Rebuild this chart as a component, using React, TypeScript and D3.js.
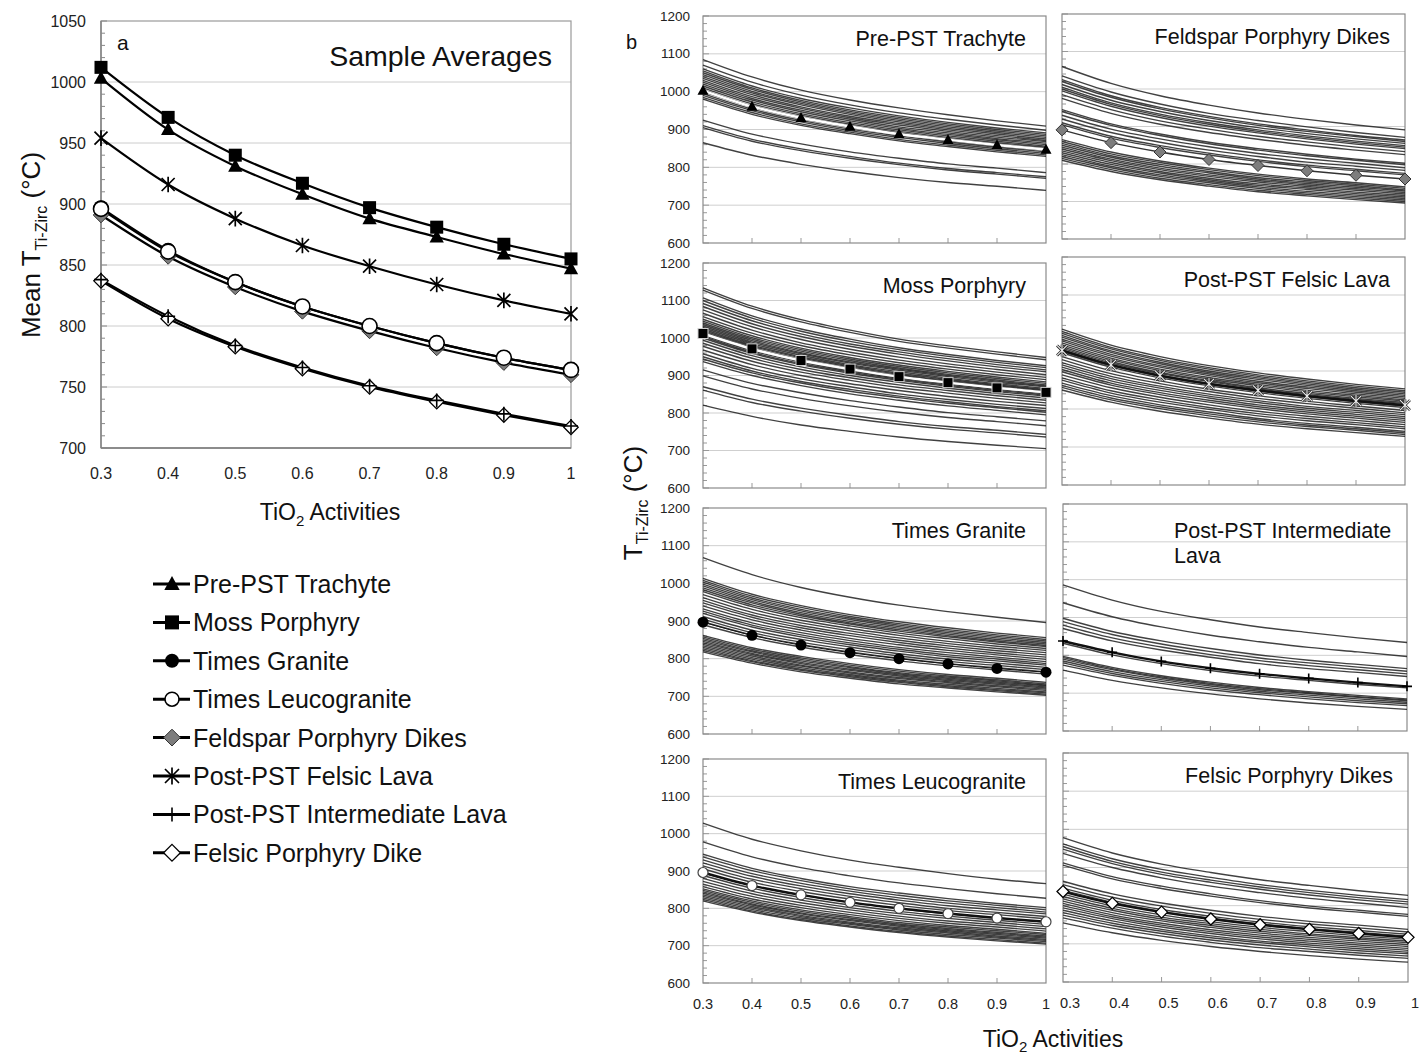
import React from "react";
import * as d3 from "d3";

const FONT = "'Liberation Sans', Arial, Helvetica, sans-serif";

// ---------- shared axes data ----------
const activities = [0.3, 0.4, 0.5, 0.6, 0.7, 0.8, 0.9, 1.0];
const xTickLabels = ["0.3", "0.4", "0.5", "0.6", "0.7", "0.8", "0.9", "1"];
const yTicksA = [700, 750, 800, 850, 900, 950, 1000, 1050];
const yTicksB = [600, 700, 800, 900, 1000, 1100, 1200];

// ---------- sample means (panel a and marker series in panel b) ----------
const meanTrachyte = [1003, 961, 931, 908, 888, 873, 859, 847];
const meanMoss = [1012, 971, 940, 917, 897, 881, 867, 855];
const meanGranite = [897, 862, 836, 816, 800, 786, 774, 764];
const meanLeuco = [896, 861, 836, 816, 800, 786, 774, 764];
const meanFeldspar = [891, 857, 832, 812, 796, 782, 770, 760];
const meanFelsicLava = [954, 916, 888, 866, 849, 834, 821, 810];
const meanIntermediate = [838, 808, 784, 766, 751, 739, 728, 718];
const meanFelsicDike = [837, 806, 783, 765, 750, 738, 727, 717];

// ---------- individual zircon curves (panel b) ----------
const curvesTrachyte = [
  [1085, 1039, 1004, 978, 957, 939, 923, 909],
  [1070, 1025, 991, 965, 944, 927, 912, 898],
  [1060, 1015, 982, 957, 936, 919, 904, 891],
  [1055, 1010, 977, 952, 932, 915, 900, 887],
  [1050, 1006, 973, 948, 928, 911, 896, 883],
  [1045, 1001, 969, 944, 924, 907, 892, 879],
  [1040, 997, 965, 940, 920, 903, 888, 875],
  [1035, 992, 960, 935, 916, 899, 884, 871],
  [1030, 987, 956, 931, 912, 895, 880, 868],
  [1025, 982, 951, 927, 907, 891, 876, 864],
  [1020, 978, 947, 923, 903, 887, 873, 860],
  [1015, 973, 942, 918, 899, 883, 869, 856],
  [1010, 968, 938, 914, 895, 879, 865, 853],
  [1005, 963, 933, 910, 891, 875, 861, 849],
  [1000, 959, 929, 906, 887, 871, 857, 845],
  [995, 954, 924, 901, 883, 867, 853, 841],
  [990, 950, 920, 897, 879, 863, 849, 837],
  [985, 945, 915, 893, 874, 859, 845, 833],
  [980, 940, 911, 889, 870, 855, 841, 829],
  [925, 888, 862, 841, 824, 809, 798, 786],
  [910, 874, 849, 829, 811, 797, 786, 775],
  [905, 869, 844, 824, 807, 793, 782, 771],
  [865, 832, 808, 789, 773, 760, 750, 739],
];

const curvesFeldspar = [
  [1060, 1015, 982, 957, 936, 919, 904, 891],
  [1035, 992, 960, 935, 916, 899, 884, 871],
  [1025, 982, 951, 927, 907, 891, 876, 864],
  [1020, 978, 947, 923, 903, 887, 873, 860],
  [1012, 970, 940, 916, 897, 881, 867, 855],
  [1005, 963, 933, 910, 891, 875, 861, 849],
  [1000, 959, 929, 906, 887, 871, 857, 845],
  [995, 954, 924, 901, 883, 867, 853, 841],
  [985, 945, 915, 893, 874, 859, 845, 833],
  [975, 935, 906, 884, 866, 850, 837, 825],
  [945, 907, 880, 858, 841, 826, 813, 802],
  [940, 903, 876, 854, 837, 822, 810, 798],
  [930, 893, 867, 846, 828, 814, 802, 790],
  [920, 884, 858, 837, 820, 805, 794, 783],
  [910, 874, 849, 829, 811, 797, 786, 775],
  [905, 869, 844, 824, 807, 793, 782, 771],
  [865, 832, 808, 789, 773, 760, 750, 739],
  [860, 827, 804, 785, 769, 756, 746, 735],
  [855, 822, 799, 780, 764, 752, 742, 731],
  [850, 818, 794, 776, 760, 748, 738, 728],
  [845, 813, 789, 771, 756, 744, 734, 724],
  [840, 809, 785, 767, 752, 740, 730, 720],
  [835, 804, 780, 762, 747, 736, 725, 716],
  [830, 799, 776, 758, 743, 732, 721, 712],
  [825, 794, 771, 754, 739, 727, 717, 708],
  [820, 790, 767, 750, 735, 723, 713, 704],
  [815, 785, 762, 745, 730, 719, 709, 700],
  [810, 780, 758, 741, 726, 715, 705, 696],
];

const curvesMoss = [
  [1134, 1085, 1049, 1021, 997, 979, 963, 948],
  [1128, 1079, 1043, 1015, 991, 973, 957, 942],
  [1107, 1059, 1024, 997, 974, 956, 940, 926],
  [1100, 1053, 1018, 991, 969, 951, 935, 921],
  [1092, 1046, 1011, 984, 963, 945, 929, 915],
  [1084, 1038, 1004, 978, 957, 939, 923, 910],
  [1075, 1030, 996, 970, 949, 931, 916, 902],
  [1066, 1021, 987, 962, 941, 924, 909, 895],
  [1057, 1013, 980, 955, 934, 917, 902, 889],
  [1050, 1006, 973, 948, 928, 911, 896, 883],
  [1045, 1001, 969, 944, 924, 907, 892, 879],
  [1040, 997, 965, 940, 920, 903, 888, 875],
  [1036, 993, 961, 936, 917, 900, 885, 872],
  [1032, 989, 958, 933, 914, 897, 882, 870],
  [1028, 985, 954, 929, 910, 893, 878, 866],
  [1024, 981, 950, 926, 906, 890, 875, 863],
  [1020, 978, 947, 923, 903, 887, 873, 860],
  [1016, 974, 943, 919, 900, 884, 870, 857],
  [1012, 970, 940, 916, 897, 881, 867, 855],
  [1008, 966, 936, 912, 893, 877, 863, 851],
  [1004, 962, 932, 909, 890, 874, 860, 848],
  [1000, 959, 929, 906, 887, 871, 857, 845],
  [994, 953, 923, 900, 882, 866, 852, 840],
  [986, 946, 916, 894, 875, 860, 846, 834],
  [978, 938, 909, 887, 868, 853, 839, 827],
  [968, 929, 900, 878, 860, 844, 831, 820],
  [958, 919, 891, 870, 851, 836, 823, 812],
  [950, 912, 884, 863, 845, 830, 817, 806],
  [944, 907, 880, 858, 841, 826, 814, 802],
  [937, 900, 873, 851, 834, 819, 807, 795],
  [915, 879, 854, 833, 816, 801, 790, 779],
  [899, 864, 839, 819, 802, 788, 777, 766],
  [870, 837, 813, 794, 777, 764, 754, 743],
  [861, 828, 805, 786, 770, 757, 747, 736],
  [821, 791, 768, 751, 736, 724, 714, 705],
];

const curvesFelsicLava = [
  [1010, 968, 938, 914, 895, 879, 865, 853],
  [1004, 962, 932, 909, 890, 874, 860, 848],
  [999, 958, 928, 905, 886, 870, 856, 844],
  [994, 953, 923, 900, 882, 866, 852, 840],
  [989, 949, 919, 896, 878, 862, 848, 836],
  [984, 944, 914, 892, 873, 858, 844, 832],
  [979, 939, 910, 888, 869, 854, 840, 828],
  [974, 934, 905, 883, 865, 849, 836, 824],
  [969, 930, 901, 879, 861, 845, 832, 821],
  [964, 925, 896, 875, 856, 841, 828, 817],
  [960, 921, 893, 872, 853, 838, 825, 814],
  [956, 917, 889, 868, 850, 835, 822, 811],
  [952, 914, 886, 865, 847, 832, 819, 808],
  [948, 910, 882, 861, 843, 828, 815, 804],
  [938, 901, 874, 852, 835, 820, 808, 796],
  [930, 893, 867, 846, 828, 814, 802, 790],
  [922, 886, 860, 839, 822, 807, 796, 785],
  [916, 880, 855, 834, 817, 802, 791, 780],
  [910, 874, 849, 829, 811, 797, 786, 775],
  [904, 868, 843, 823, 806, 792, 781, 770],
  [898, 863, 838, 818, 801, 787, 776, 765],
  [890, 856, 831, 811, 794, 781, 770, 759],
  [882, 848, 824, 804, 788, 775, 764, 753],
  [876, 842, 818, 799, 782, 769, 759, 748],
  [868, 835, 811, 792, 775, 762, 752, 741],
  [862, 829, 806, 787, 771, 758, 748, 737],
  [857, 824, 801, 782, 766, 754, 744, 733],
  [850, 818, 794, 776, 760, 748, 738, 728],
];

const curvesGranite = [
  [1068, 1023, 989, 963, 942, 925, 910, 896],
  [1013, 971, 941, 917, 898, 882, 868, 856],
  [1008, 966, 936, 912, 893, 877, 863, 851],
  [1003, 961, 931, 908, 889, 873, 859, 847],
  [998, 957, 927, 904, 885, 869, 855, 843],
  [993, 952, 922, 899, 881, 865, 851, 839],
  [988, 948, 918, 895, 877, 861, 847, 835],
  [983, 943, 914, 892, 873, 858, 844, 832],
  [978, 938, 909, 887, 868, 853, 839, 827],
  [970, 931, 902, 880, 862, 846, 833, 822],
  [962, 923, 895, 874, 855, 840, 827, 816],
  [955, 916, 888, 867, 849, 834, 821, 810],
  [948, 910, 882, 861, 843, 828, 815, 804],
  [940, 903, 876, 854, 837, 822, 810, 798],
  [932, 895, 869, 848, 830, 816, 804, 792],
  [926, 889, 863, 842, 825, 810, 799, 787],
  [920, 884, 858, 837, 820, 805, 794, 783],
  [912, 876, 851, 831, 813, 799, 788, 777],
  [905, 869, 844, 824, 807, 793, 782, 771],
  [898, 863, 838, 818, 801, 787, 776, 765],
  [890, 856, 831, 811, 794, 781, 770, 759],
  [862, 829, 806, 787, 771, 758, 748, 737],
  [858, 825, 802, 783, 767, 754, 744, 733],
  [854, 821, 798, 779, 763, 751, 741, 730],
  [850, 818, 794, 776, 760, 748, 738, 728],
  [846, 814, 790, 772, 757, 745, 735, 725],
  [842, 811, 787, 769, 754, 742, 732, 722],
  [838, 807, 783, 765, 750, 739, 728, 719],
  [834, 803, 780, 762, 747, 736, 725, 716],
  [830, 799, 776, 758, 743, 732, 721, 712],
  [826, 795, 772, 755, 740, 728, 718, 709],
  [822, 792, 769, 752, 737, 725, 715, 706],
  [818, 788, 765, 748, 733, 722, 712, 703],
];

const curvesIntermediate = [
  [986, 946, 916, 894, 875, 860, 846, 834],
  [939, 902, 875, 853, 836, 821, 809, 797],
  [898, 863, 838, 818, 801, 787, 776, 765],
  [889, 855, 830, 810, 793, 780, 769, 758],
  [880, 846, 822, 802, 786, 773, 762, 751],
  [871, 838, 814, 795, 778, 765, 755, 744],
  [832, 801, 778, 760, 745, 734, 723, 714],
  [797, 768, 746, 729, 715, 704, 694, 685],
  [794, 765, 743, 726, 712, 701, 691, 682],
  [790, 762, 740, 723, 709, 699, 689, 680],
  [785, 757, 736, 719, 705, 695, 685, 676],
  [780, 752, 731, 714, 701, 690, 680, 672],
  [774, 747, 726, 709, 696, 685, 675, 667],
  [761, 734, 714, 698, 685, 674, 665, 657],
];

const curvesLeuco = [
  [1028, 985, 954, 929, 910, 893, 878, 866],
  [978, 938, 909, 887, 868, 853, 839, 827],
  [945, 907, 880, 858, 841, 826, 813, 802],
  [938, 901, 874, 852, 835, 820, 808, 796],
  [930, 893, 867, 846, 828, 814, 802, 790],
  [922, 886, 860, 839, 822, 807, 796, 785],
  [914, 878, 853, 832, 815, 800, 789, 778],
  [906, 870, 845, 825, 808, 794, 783, 772],
  [895, 861, 836, 816, 799, 785, 774, 763],
  [888, 854, 829, 809, 792, 779, 768, 757],
  [880, 846, 822, 802, 786, 773, 762, 751],
  [872, 839, 815, 796, 779, 766, 756, 745],
  [865, 832, 808, 789, 773, 760, 750, 739],
  [858, 825, 802, 783, 767, 754, 744, 733],
  [852, 820, 796, 778, 762, 750, 740, 730],
  [848, 816, 792, 774, 758, 746, 736, 726],
  [844, 812, 788, 770, 755, 743, 733, 723],
  [840, 809, 785, 767, 752, 740, 730, 720],
  [836, 805, 781, 763, 748, 737, 726, 717],
  [832, 801, 778, 760, 745, 734, 723, 714],
  [828, 797, 774, 757, 742, 730, 720, 711],
  [824, 793, 770, 753, 738, 726, 716, 707],
  [820, 790, 767, 750, 735, 723, 713, 704],
];

const curvesFelsicDikes = [
  [978, 938, 909, 887, 868, 853, 839, 827],
  [962, 923, 895, 874, 855, 840, 827, 816],
  [955, 916, 888, 867, 849, 834, 821, 810],
  [948, 910, 882, 861, 843, 828, 815, 804],
  [937, 900, 873, 851, 834, 819, 807, 795],
  [912, 876, 851, 831, 813, 799, 788, 777],
  [906, 870, 845, 825, 808, 794, 783, 772],
  [864, 831, 807, 788, 772, 759, 749, 738],
  [855, 822, 799, 780, 764, 752, 742, 731],
  [846, 814, 790, 772, 757, 745, 735, 725],
  [840, 809, 785, 767, 752, 740, 730, 720],
  [830, 799, 776, 758, 743, 732, 721, 712],
  [824, 793, 770, 753, 738, 726, 716, 707],
  [818, 788, 765, 748, 733, 722, 712, 703],
  [812, 782, 760, 743, 728, 717, 707, 698],
  [806, 776, 754, 737, 723, 712, 702, 693],
  [800, 771, 749, 732, 718, 707, 697, 688],
  [794, 766, 744, 727, 713, 702, 692, 683],
  [788, 760, 738, 721, 707, 697, 687, 678],
  [782, 754, 733, 716, 703, 692, 682, 674],
  [775, 748, 727, 710, 697, 686, 676, 668],
  [768, 741, 720, 704, 690, 680, 670, 662],
  [755, 729, 709, 693, 680, 669, 660, 652],
];

// ---------- labels ----------
const legendNames = [
  "Pre-PST Trachyte",
  "Moss Porphyry",
  "Times Granite",
  "Times Leucogranite",
  "Feldspar Porphyry Dikes",
  "Post-PST Felsic Lava",
  "Post-PST Intermediate Lava",
  "Felsic Porphyry Dike",
];
const legendKinds = ["triangle", "square", "circle", "openCircle", "grayDiamond", "asterisk", "plus", "openDiamond"];

type Kind = "triangle" | "square" | "circle" | "openCircle" | "grayDiamond" | "asterisk" | "plus" | "openDiamond";

function Marker({ kind, x, y, s, small }: { kind: Kind; x: number; y: number; s: number; small?: boolean }) {
  const h = s / 2;
  switch (kind) {
    case "triangle":
      return <path d={`M${x},${y - h * 1.15}L${x + h * 1.1},${y + h * 0.85}L${x - h * 1.1},${y + h * 0.85}Z`} fill="#000" />;
    case "square":
      return <rect x={x - h} y={y - h} width={s} height={s} fill="#000" stroke={small ? "#cfcfcf" : "none"} strokeWidth={1} />;
    case "circle":
      return <circle cx={x} cy={y} r={h} fill="#000" />;
    case "openCircle":
      return <circle cx={x} cy={y} r={h} fill="#fff" stroke={small ? "#444" : "#000"} strokeWidth={small ? 1.2 : 1.6} />;
    case "grayDiamond":
      return <path d={`M${x},${y - h * 1.2}L${x + h * 1.2},${y}L${x},${y + h * 1.2}L${x - h * 1.2},${y}Z`} fill="#7d7d7d" stroke="#333" strokeWidth={1} />;
    case "openDiamond":
      return <path d={`M${x},${y - h * 1.2}L${x + h * 1.2},${y}L${x},${y + h * 1.2}L${x - h * 1.2},${y}Z`} fill="#fff" stroke="#000" strokeWidth={1.3} />;
    case "asterisk": {
      const d = `M${x - h},${y - h}L${x + h},${y + h}M${x - h},${y + h}L${x + h},${y - h}M${x},${y - h * 1.2}L${x},${y + h * 1.2}`;
      if (small)
        return (
          <g>
            <path d={d} stroke="#222" strokeWidth={2.6} fill="none" />
            <path d={d} stroke="#eee" strokeWidth={1.1} fill="none" />
          </g>
        );
      return <path d={d} stroke="#000" strokeWidth={1.7} fill="none" />;
    }
    case "plus":
      return <path d={`M${x - h},${y}L${x + h},${y}M${x},${y - h}L${x},${y + h}`} stroke="#000" strokeWidth={1.6} fill="none" />;
  }
  return null;
}

// ---------- panel b configuration ----------
const panelTitles = [
  ["Pre-PST Trachyte"],
  ["Feldspar Porphyry Dikes"],
  ["Moss Porphyry"],
  ["Post-PST Felsic Lava"],
  ["Times Granite"],
  ["Post-PST Intermediate", "Lava"],
  ["Times Leucogranite"],
  ["Felsic Porphyry Dikes"],
];
const panelCurves = [curvesTrachyte, curvesFeldspar, curvesMoss, curvesFelsicLava, curvesGranite, curvesIntermediate, curvesLeuco, curvesFelsicDikes];
const panelMeans = [meanTrachyte, meanFeldspar, meanMoss, meanFelsicLava, meanGranite, meanIntermediate, meanLeuco, meanFelsicDike];
const panelKinds: Kind[] = ["triangle", "grayDiamond", "square", "asterisk", "circle", "plus", "openCircle", "openDiamond"];

// layout (pixel boxes of the sub-plots)
const boxes = [
  { x0: 703, x1: 1046, y0: 16, y1: 243 },
  { x0: 1062, x1: 1405, y0: 14, y1: 239 },
  { x0: 703, x1: 1046, y0: 263, y1: 488 },
  { x0: 1062, x1: 1405, y0: 257, y1: 485 },
  { x0: 703, x1: 1046, y0: 508, y1: 734 },
  { x0: 1063, x1: 1407, y0: 504, y1: 731 },
  { x0: 703, x1: 1046, y0: 759, y1: 983 },
  { x0: 1063, x1: 1408, y0: 753, y1: 982 },
];
const meanLineStyle = [
  { stroke: "#fff", w: 2.4 },
  { stroke: "#333", w: 1.4 },
  { stroke: "#fff", w: 2.4 },
  { stroke: "#111", w: 2.4 },
  { stroke: "#111", w: 1 },
  { stroke: "#111", w: 2.4 },
  { stroke: "#111", w: 2.4 },
  { stroke: "#111", w: 2.4 },
];

function SubPanel({ idx }: { idx: number }) {
  const b = boxes[idx];
  const left = idx % 2 === 0;
  const bottom = idx >= 6;
  const x = d3.scaleLinear().domain([0.3, 1]).range([b.x0, b.x1]);
  const y = d3.scaleLinear().domain([600, 1200]).range([b.y1, b.y0]);
  const line = d3
    .line<number>()
    .x((_, i) => x(activities[i]))
    .y((d) => y(d))
    .curve(d3.curveMonotoneX);
  const minor = d3.range(600, 1201, 20);
  const title = panelTitles[idx];
  const tx = left ? b.x1 - 20 : b.x1 - 15;
  return (
    <g>
      {yTicksB.slice(1, -1).map((t) => (
        <line key={t} x1={b.x0} x2={b.x1} y1={y(t)} y2={y(t)} stroke="#cfcfcf" strokeWidth={1} />
      ))}
      {minor.map((t) => (
        <line key={"m" + t} x1={b.x0} x2={b.x0 + (t % 100 === 0 ? 6 : 4)} y1={y(t)} y2={y(t)} stroke="#999" strokeWidth={1} />
      ))}
      {activities.slice(1, -1).map((a) => (
        <line key={"xt" + a} x1={x(a)} x2={x(a)} y1={b.y1} y2={b.y1 - 5} stroke="#999" strokeWidth={1} />
      ))}
      <rect x={b.x0} y={b.y0} width={b.x1 - b.x0} height={b.y1 - b.y0} fill="none" stroke="#8a8a8a" strokeWidth={1.2} />
      {panelCurves[idx].map((c, i) => (
        <path key={i} d={line(c) || ""} fill="none" stroke="#202020" strokeOpacity={0.85} strokeWidth={1.35} />
      ))}
      <path d={line(panelMeans[idx]) || ""} fill="none" stroke={meanLineStyle[idx].stroke} strokeWidth={meanLineStyle[idx].w} />
      {panelMeans[idx].map((v, i) => (
        <Marker key={i} kind={panelKinds[idx]} x={x(activities[i])} y={y(v)} s={panelKinds[idx] === "circle" ? 11 : 10} small />
      ))}
      {title.length === 1 ? (
        <text x={tx} y={b.y0 + 30} textAnchor="end" fontSize={21.5} fontFamily={FONT} fill="#111">
          {title[0]}
        </text>
      ) : (
        <g>
          <text x={1174} y={b.y0 + 34} textAnchor="start" fontSize={21.5} fontFamily={FONT} fill="#111">
            {title[0]}
          </text>
          <text x={1174} y={b.y0 + 59} textAnchor="start" fontSize={21.5} fontFamily={FONT} fill="#111">
            {title[1]}
          </text>
        </g>
      )}
      {left &&
        yTicksB.map((t) => (
          <text key={"yl" + t} x={b.x0 - 13} y={y(t) + 4.5} textAnchor="end" fontSize={13.5} fontFamily={FONT} fill="#222">
            {t}
          </text>
        ))}
      {bottom &&
        activities.map((a, i) => (
          <text key={"xl" + a} x={x(a) + (left ? 0 : 7)} y={b.y1 + 26} textAnchor="middle" fontSize={14.5} fontFamily={FONT} fill="#222">
            {xTickLabels[i]}
          </text>
        ))}
    </g>
  );
}

// ---------- panel a ----------
const seriesAOrder = [
  { values: meanFelsicDike, kind: "openDiamond" as Kind },
  { values: meanIntermediate, kind: "plus" as Kind },
  { values: meanFeldspar, kind: "grayDiamond" as Kind },
  { values: meanGranite, kind: "circle" as Kind },
  { values: meanLeuco, kind: "openCircle" as Kind },
  { values: meanFelsicLava, kind: "asterisk" as Kind },
  { values: meanTrachyte, kind: "triangle" as Kind },
  { values: meanMoss, kind: "square" as Kind },
];

function PanelA() {
  const x0 = 101, x1 = 571, yTop = 21, yBot = 448;
  const x = d3.scaleLinear().domain([0.3, 1]).range([x0, x1]);
  const y = d3.scaleLinear().domain([700, 1050]).range([yBot, yTop]);
  const line = d3
    .line<number>()
    .x((_, i) => x(activities[i]))
    .y((d) => y(d))
    .curve(d3.curveMonotoneX);
  const minor = d3.range(700, 1051, 10);
  const sizes: Record<string, number> = { triangle: 13, square: 13, circle: 15, openCircle: 15, grayDiamond: 13, asterisk: 13, plus: 14, openDiamond: 12 };
  return (
    <g>
      {yTicksA.slice(1, -1).map((t) => (
        <line key={t} x1={x0} x2={x1} y1={y(t)} y2={y(t)} stroke="#cccccc" strokeWidth={1} />
      ))}
      <rect x={x0} y={yTop} width={x1 - x0} height={yBot - yTop} fill="none" stroke="#9a9a9a" strokeWidth={1.2} />
      <line x1={x0} x2={x0} y1={yTop} y2={yBot} stroke="#7a7a7a" strokeWidth={1.3} />
      <line x1={x0} x2={x1} y1={yBot} y2={yBot} stroke="#7a7a7a" strokeWidth={1.3} />
      {minor.map((t) => (
        <line key={"m" + t} x1={x0} x2={x0 + (t % 50 === 0 ? 6 : 4)} y1={y(t)} y2={y(t)} stroke="#888" strokeWidth={1} />
      ))}
      {yTicksA.map((t) => (
        <text key={"yl" + t} x={x0 - 15} y={y(t) + 5.5} textAnchor="end" fontSize={16} fontFamily={FONT} fill="#222">
          {t}
        </text>
      ))}
      {activities.map((a, i) => (
        <text key={"xl" + a} x={x(a)} y={yBot + 31} textAnchor="middle" fontSize={16} fontFamily={FONT} fill="#222">
          {xTickLabels[i]}
        </text>
      ))}
      {seriesAOrder.map((s, i) => (
        <path key={"l" + i} d={line(s.values) || ""} fill="none" stroke="#000" strokeWidth={2.2} />
      ))}
      {seriesAOrder.map((s, i) => (
        <g key={"g" + i}>
          {s.values.map((v, j) => (
            <Marker key={j} kind={s.kind} x={x(activities[j])} y={y(v)} s={sizes[s.kind]} />
          ))}
        </g>
      ))}
      <text x={117} y={50} fontSize={21} fontFamily={FONT} fill="#111">a</text>
      <text x={552} y={66} textAnchor="end" fontSize={28.5} fontFamily={FONT} fill="#111">Sample Averages</text>
      <text transform="translate(40,245) rotate(-90)" textAnchor="middle" fontSize={26} fontFamily={FONT} fill="#111">
        <tspan>Mean T</tspan>
        <tspan fontSize={16} dy={7}>Ti-Zirc</tspan>
        <tspan dy={-7}> (°C)</tspan>
      </text>
      <text x={330} y={520} textAnchor="middle" fontSize={23} fontFamily={FONT} fill="#111">
        <tspan>TiO</tspan>
        <tspan fontSize={15} dy={6}>2</tspan>
        <tspan dy={-6}> Activities</tspan>
      </text>
    </g>
  );
}

function Legend() {
  const startY = 584, step = 38.4;
  return (
    <g>
      {legendNames.map((n, i) => {
        const cy = startY + i * step;
        return (
          <g key={n}>
            <line x1={153} x2={190} y1={cy} y2={cy} stroke="#000" strokeWidth={3} />
            <Marker kind={legendKinds[i] as Kind} x={172} y={cy} s={14} />
            <text x={193} y={cy + 9} fontSize={25} fontFamily={FONT} fill="#111">
              {n}
            </text>
          </g>
        );
      })}
    </g>
  );
}

export default function App() {
  return (
    <svg width={1427} height={1058} style={{ position: "absolute", left: 0, top: 0, background: "#fff" }}>
      <rect x={0} y={0} width={1427} height={1058} fill="#fff" />
      <PanelA />
      <Legend />
      {boxes.map((_, i) => (
        <SubPanel key={i} idx={i} />
      ))}
      <text x={626} y={49} fontSize={20} fontFamily={FONT} fill="#111">b</text>
      <text transform="translate(642,503) rotate(-90)" textAnchor="middle" fontSize={26} fontFamily={FONT} fill="#111">
        <tspan>T</tspan>
        <tspan fontSize={16} dy={6}>Ti-Zirc</tspan>
        <tspan dy={-6}> (°C)</tspan>
      </text>
      <text x={1053} y={1047} textAnchor="middle" fontSize={23} fontFamily={FONT} fill="#111">
        <tspan>TiO</tspan>
        <tspan fontSize={15} dy={5}>2</tspan>
        <tspan dy={-5}> Activities</tspan>
      </text>
    </svg>
  );
}
